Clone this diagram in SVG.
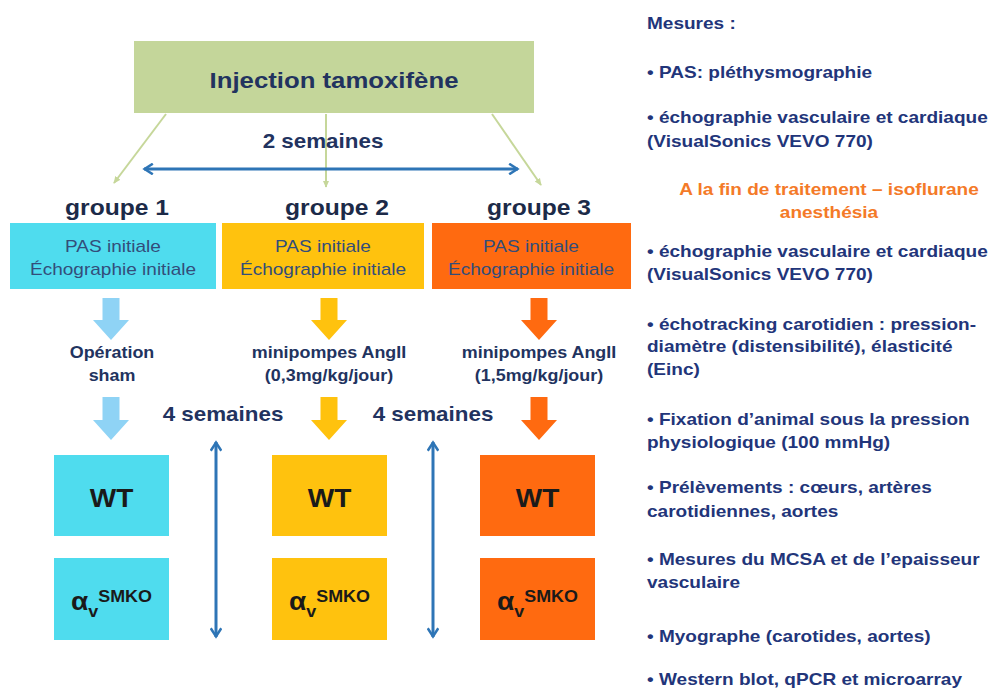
<svg xmlns="http://www.w3.org/2000/svg" width="1000" height="693" viewBox="0 0 1000 693">
<style>
text{font-family:"Liberation Sans",Arial,sans-serif;}
.b{font-weight:bold;}
.nv{fill:#22335f;}
.grp{font-size:22px;font-weight:bold;fill:#1c2a48;}
.box{font-size:17px;fill:#334d7a;}
.lbl{font-size:16px;font-weight:bold;fill:#22335f;}
.sem{font-size:20px;font-weight:bold;fill:#22335f;}
.wt{font-size:25px;font-weight:bold;fill:#1a1a1a;}
.r{font-size:17px;font-weight:bold;fill:#22357a;}
.or{font-size:17px;font-weight:bold;fill:#f47a28;}
.gl{stroke:#c6d79a;stroke-width:2;fill:none;}
.bl{stroke:#2e75b6;stroke-width:3;fill:none;}
.c1{fill:#4fdcee;}
.c2{fill:#ffc20e;}
.c3{fill:#ff6a10;}
.a1{fill:#8fd3f5;}
</style>
<defs>
<marker id="ga" viewBox="0 0 10 10" refX="8" refY="5" markerWidth="4" markerHeight="4" orient="auto"><path d="M0,1 L9,5 L0,9 Z" fill="#c6d79a"/></marker>
<marker id="ba" viewBox="0 0 10 10" refX="8.5" refY="5" markerWidth="4.2" markerHeight="4.2" orient="auto-start-reverse"><path d="M1.5,0.8 L8,5 L1.5,9.2" fill="none" stroke="#2e75b6" stroke-width="2"/></marker>
</defs>
<rect width="1000" height="693" fill="#ffffff"/>

<g id="injection">
<rect x="134" y="41" width="400" height="72" fill="#c4d69a"/>
<text class="b nv" font-size="23" text-anchor="middle" transform="translate(334,88) scale(1.12,1)">Injection tamoxifène</text>
</g>

<g id="connectors">
<line class="gl" x1="166" y1="114" x2="114" y2="183" marker-end="url(#ga)"/>
<line class="gl" x1="326" y1="114" x2="326" y2="187" marker-end="url(#ga)"/>
<line class="gl" x1="492" y1="114" x2="541" y2="185" marker-end="url(#ga)"/>
<line class="bl" x1="144" y1="169" x2="518" y2="169" marker-start="url(#ba)" marker-end="url(#ba)"/>
<line class="bl" x1="216" y1="442" x2="216" y2="637" marker-start="url(#ba)" marker-end="url(#ba)"/>
<line class="bl" x1="433" y1="442" x2="433" y2="637" marker-start="url(#ba)" marker-end="url(#ba)"/>
<polygon class="a1" points="102.5,298 119.5,298 119.5,320 129,320 111,340 93,320 102.5,320"/>
<polygon class="c2" points="320.5,298 337.5,298 337.5,320 347,320 329,340 311,320 320.5,320"/>
<polygon class="c3" points="530.5,298 547.5,298 547.5,320 557,320 539,340 521,320 530.5,320"/>
<polygon class="a1" points="102.5,397 119.5,397 119.5,420 129,420 111,440 93,420 102.5,420"/>
<polygon class="c2" points="320.5,397 337.5,397 337.5,420 347,420 329,440 311,420 320.5,420"/>
<polygon class="c3" points="530.5,397 547.5,397 547.5,420 557,420 539,440 521,420 530.5,420"/>
</g>

<g id="label-2semaines"><text class="sem" text-anchor="middle" transform="translate(323,148) scale(1.12,1)">2 semaines</text></g>

<g id="groupe1">
<text class="grp" text-anchor="middle" transform="translate(117,215) scale(1.12,1)">groupe 1</text>
<rect class="c1" x="10" y="223" width="206" height="66"/>
<text class="box" text-anchor="middle" transform="translate(113,252) scale(1.12,1)">PAS initiale</text>
<text class="box" text-anchor="middle" transform="translate(113,275) scale(1.12,1)">Échographie initiale</text>
</g>
<g id="groupe2">
<text class="grp" text-anchor="middle" transform="translate(337,215) scale(1.12,1)">groupe 2</text>
<rect class="c2" x="222" y="223" width="202" height="66"/>
<text class="box" text-anchor="middle" transform="translate(323,252) scale(1.12,1)">PAS initiale</text>
<text class="box" text-anchor="middle" transform="translate(323,275) scale(1.12,1)">Échographie initiale</text>
</g>
<g id="groupe3">
<text class="grp" text-anchor="middle" transform="translate(539,215) scale(1.12,1)">groupe 3</text>
<rect class="c3" x="432" y="223" width="199" height="66"/>
<text class="box" text-anchor="middle" transform="translate(531,252) scale(1.12,1)">PAS initiale</text>
<text class="box" text-anchor="middle" transform="translate(531,275) scale(1.12,1)">Échographie initiale</text>
</g>

<g id="treat1">
<text class="lbl" text-anchor="middle" transform="translate(112,358) scale(1.12,1)">Opération</text>
<text class="lbl" text-anchor="middle" transform="translate(112,381) scale(1.12,1)">sham</text>
</g>
<g id="treat2">
<text class="lbl" text-anchor="middle" transform="translate(329,358) scale(1.12,1)">minipompes AngII</text>
<text class="lbl" text-anchor="middle" transform="translate(329,381) scale(1.12,1)">(0,3mg/kg/jour)</text>
</g>
<g id="treat3">
<text class="lbl" text-anchor="middle" transform="translate(539,358) scale(1.12,1)">minipompes AngII</text>
<text class="lbl" text-anchor="middle" transform="translate(539,381) scale(1.12,1)">(1,5mg/kg/jour)</text>
</g>

<g id="label-4semaines">
<text class="sem" text-anchor="middle" transform="translate(223,421) scale(1.12,1)">4 semaines</text>
<text class="sem" text-anchor="middle" transform="translate(433,421) scale(1.12,1)">4 semaines</text>
</g>

<g id="wt1"><rect class="c1" x="54" y="455" width="115" height="81"/><text class="wt" text-anchor="middle" transform="translate(111.5,507) scale(1.12,1)">WT</text></g>
<g id="ko1"><rect class="c1" x="54" y="558" width="115" height="82"/><text class="wt" text-anchor="middle" transform="translate(111.5,610) scale(1.12,1)">α<tspan font-size="16" dy="7">v</tspan><tspan font-size="16" dy="-15">SMKO</tspan></text></g>
<g id="wt2"><rect class="c2" x="272" y="455" width="115" height="81"/><text class="wt" text-anchor="middle" transform="translate(329.5,507) scale(1.12,1)">WT</text></g>
<g id="ko2"><rect class="c2" x="272" y="558" width="115" height="82"/><text class="wt" text-anchor="middle" transform="translate(329.5,610) scale(1.12,1)">α<tspan font-size="16" dy="7">v</tspan><tspan font-size="16" dy="-15">SMKO</tspan></text></g>
<g id="wt3"><rect class="c3" x="480" y="455" width="115" height="81"/><text class="wt" text-anchor="middle" transform="translate(537.5,507) scale(1.12,1)">WT</text></g>
<g id="ko3"><rect class="c3" x="480" y="558" width="115" height="82"/><text class="wt" text-anchor="middle" transform="translate(537.5,610) scale(1.12,1)">α<tspan font-size="16" dy="7">v</tspan><tspan font-size="16" dy="-15">SMKO</tspan></text></g>

<g id="mesures">
<text class="r" transform="translate(647,29) scale(1.12,1)">Mesures :</text>
<text class="r" transform="translate(647,78) scale(1.12,1)">• PAS: pléthysmographie</text>
<text class="r" transform="translate(647,123) scale(1.12,1)">• échographie vasculaire et cardiaque</text>
<text class="r" transform="translate(647,147) scale(1.12,1)">(VisualSonics VEVO 770)</text>
<text class="or" text-anchor="middle" transform="translate(829,195) scale(1.12,1)">A la fin de traitement – isoflurane</text>
<text class="or" text-anchor="middle" transform="translate(829,218) scale(1.12,1)">anesthésia</text>
<text class="r" transform="translate(647,257) scale(1.12,1)">• échographie vasculaire et cardiaque</text>
<text class="r" transform="translate(647,280) scale(1.12,1)">(VisualSonics VEVO 770)</text>
<text class="r" transform="translate(647,330) scale(1.12,1)">• échotracking carotidien : pression-</text>
<text class="r" transform="translate(647,352) scale(1.12,1)">diamètre (distensibilité), élasticité</text>
<text class="r" transform="translate(647,375) scale(1.12,1)">(Einc)</text>
<text class="r" transform="translate(647,425) scale(1.12,1)">• Fixation d’animal sous la pression</text>
<text class="r" transform="translate(647,448) scale(1.12,1)">physiologique (100 mmHg)</text>
<text class="r" transform="translate(647,493) scale(1.12,1)">• Prélèvements : cœurs, artères</text>
<text class="r" transform="translate(647,517) scale(1.12,1)">carotidiennes, aortes</text>
<text class="r" transform="translate(647,565) scale(1.12,1)">• Mesures du MCSA et de l’epaisseur</text>
<text class="r" transform="translate(647,588) scale(1.12,1)">vasculaire</text>
<text class="r" transform="translate(647,642) scale(1.12,1)">• Myographe (carotides, aortes)</text>
<text class="r" transform="translate(647,685) scale(1.12,1)">• Western blot, qPCR et microarray</text>
</g>
</svg>
